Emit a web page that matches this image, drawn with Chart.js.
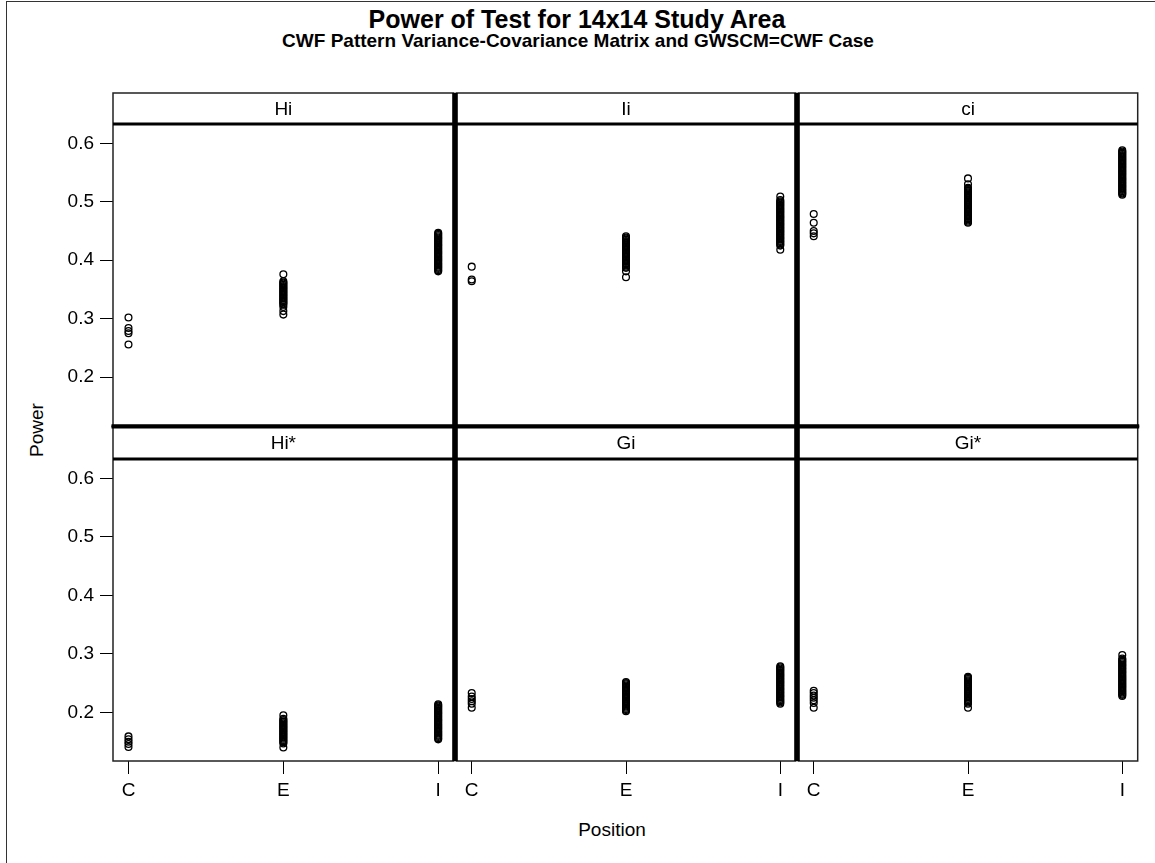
<!DOCTYPE html>
<html>
<head>
<meta charset="utf-8">
<title>Power of Test for 14x14 Study Area</title>
<script src="https://cdn.jsdelivr.net/npm/chart.js@4.4.0/dist/chart.umd.min.js"></script>
<style>
  body { margin: 0; background: #fff; }
  #page { position: relative; width: 1155px; height: 863px; overflow: hidden; background: #fff;
          font-family: "Liberation Sans", Arial, sans-serif; color: #000; }
  #page canvas { position: absolute; }
  .frame { position: absolute; left: 6px; top: 1px; width: 1200px; height: 900px;
           border-left: 1px solid #333; border-top: 1px solid #333; }
  .txt { position: absolute; white-space: nowrap; transform: translate(-50%, -50%); }
  #title { left: 577px; top: 19px; font-size: 25px; font-weight: bold; }
  #subtitle { left: 578px; top: 41px; font-size: 19px; font-weight: bold; }
  #ylab { left: 37px; top: 430px; font-size: 19px; transform: translate(-50%, -50%) rotate(-90deg); }
  #xlab { left: 612px; top: 830px; font-size: 19px; }
</style>
</head>
<body>
<div id="page">
  <div class="frame"></div>
  <div class="txt" id="title">Power of Test for 14x14 Study Area</div>
  <div class="txt" id="subtitle">CWF Pattern Variance-Covariance Matrix and GWSCM=CWF Case</div>
  <div class="txt" id="ylab">Power</div>
  <div class="txt" id="xlab">Position</div>
</div>
<script>
// positions on the x axis and the power ticks shared by all panels
const categories = ["C", "E", "I"];
const yTicks = [0.2, 0.3, 0.4, 0.5, 0.6];
const panelNames = ["Hi", "Ii", "ci", "Hi*", "Gi", "Gi*"];

// Hi
const hiC = [0.302, 0.284, 0.279, 0.275, 0.256];
const hiE = [0.376, 0.364, 0.362, 0.360, 0.358, 0.356, 0.354, 0.352, 0.350, 0.348, 0.346, 0.344, 0.342,
  0.340, 0.338, 0.336, 0.334, 0.332, 0.330, 0.328, 0.326, 0.324, 0.320, 0.313, 0.307];
const hiI = [0.447, 0.445, 0.443, 0.441, 0.439, 0.437, 0.435, 0.433, 0.431, 0.429, 0.427, 0.425, 0.423,
  0.421, 0.419, 0.417, 0.415, 0.413, 0.411, 0.409, 0.407, 0.405, 0.403, 0.401, 0.399, 0.397, 0.395,
  0.393, 0.391, 0.389, 0.387, 0.385, 0.383, 0.381];

// Ii
const iiC = [0.389, 0.367, 0.364];
const iiE = [0.441, 0.439, 0.437, 0.435, 0.433, 0.431, 0.429, 0.427, 0.425, 0.423, 0.421, 0.419, 0.417,
  0.415, 0.413, 0.411, 0.409, 0.407, 0.405, 0.403, 0.401, 0.399, 0.397, 0.395, 0.393, 0.391, 0.389,
  0.387, 0.381, 0.371];
const iiI = [0.509, 0.503, 0.501, 0.499, 0.497, 0.495, 0.493, 0.491, 0.489, 0.487, 0.485, 0.483, 0.481,
  0.479, 0.477, 0.475, 0.473, 0.471, 0.469, 0.467, 0.465, 0.463, 0.461, 0.459, 0.457, 0.455, 0.453,
  0.451, 0.449, 0.447, 0.445, 0.443, 0.441, 0.439, 0.437, 0.435, 0.433, 0.431, 0.429, 0.427, 0.425,
  0.418];

// ci
const ciC = [0.479, 0.464, 0.450, 0.446, 0.441];
const ciE = [0.540, 0.530, 0.524, 0.522, 0.520, 0.518, 0.516, 0.514, 0.512, 0.510, 0.508, 0.506, 0.504,
  0.502, 0.500, 0.498, 0.496, 0.494, 0.492, 0.490, 0.488, 0.486, 0.484, 0.482, 0.480, 0.478, 0.476,
  0.474, 0.472, 0.470, 0.468, 0.466, 0.464];
const ciI = [0.588, 0.586, 0.584, 0.582, 0.580, 0.578, 0.576, 0.574, 0.572, 0.570, 0.568, 0.566, 0.564,
  0.562, 0.560, 0.558, 0.556, 0.554, 0.552, 0.550, 0.548, 0.546, 0.544, 0.542, 0.540, 0.538, 0.536,
  0.534, 0.532, 0.530, 0.528, 0.526, 0.524, 0.522, 0.520, 0.518, 0.516, 0.514, 0.512];

// Hi*
const hisC = [0.159, 0.154, 0.150, 0.146, 0.141];
const hisE = [0.195, 0.189, 0.187, 0.185, 0.183, 0.181, 0.179, 0.177, 0.175, 0.173, 0.171, 0.169, 0.167,
  0.165, 0.163, 0.161, 0.159, 0.157, 0.155, 0.153, 0.151, 0.149, 0.147, 0.140];
const hisI = [0.214, 0.212, 0.210, 0.208, 0.206, 0.204, 0.202, 0.200, 0.198, 0.196, 0.194, 0.192, 0.190,
  0.188, 0.186, 0.184, 0.182, 0.180, 0.178, 0.176, 0.174, 0.172, 0.170, 0.168, 0.166, 0.164, 0.162,
  0.160, 0.158, 0.156, 0.154];

// Gi
const giC = [0.233, 0.227, 0.223, 0.219, 0.215, 0.208];
const giE = [0.252, 0.250, 0.248, 0.246, 0.244, 0.242, 0.240, 0.238, 0.236, 0.234, 0.232, 0.230, 0.228,
  0.226, 0.224, 0.222, 0.220, 0.218, 0.216, 0.214, 0.212, 0.210, 0.208, 0.206, 0.204, 0.202];
const giI = [0.279, 0.277, 0.275, 0.273, 0.271, 0.269, 0.267, 0.265, 0.263, 0.261, 0.259, 0.257, 0.255,
  0.253, 0.251, 0.249, 0.247, 0.245, 0.243, 0.241, 0.239, 0.237, 0.235, 0.233, 0.231, 0.229, 0.227,
  0.225, 0.223, 0.221, 0.219, 0.217, 0.215];

// Gi*
const gisC = [0.237, 0.233, 0.229, 0.225, 0.221, 0.216, 0.208];
const gisE = [0.261, 0.259, 0.257, 0.255, 0.253, 0.251, 0.249, 0.247, 0.245, 0.243, 0.241, 0.239, 0.237,
  0.235, 0.233, 0.231, 0.229, 0.227, 0.225, 0.223, 0.221, 0.219, 0.217, 0.215, 0.208];
const gisI = [0.298, 0.292, 0.290, 0.288, 0.286, 0.284, 0.282, 0.280, 0.278, 0.276, 0.274, 0.272, 0.270,
  0.268, 0.266, 0.264, 0.262, 0.260, 0.258, 0.256, 0.254, 0.252, 0.250, 0.248, 0.246, 0.244, 0.242,
  0.240, 0.238, 0.236, 0.234, 0.232, 0.230, 0.228];

const panelValues = [
  [hiC, hiE, hiI], [iiC, iiE, iiI], [ciC, ciE, ciI],
  [hisC, hisE, hisI], [giC, giE, giI], [gisC, gisE, gisI]
];

// panel grid geometry (page pixels)
const colEdges = [113, 455, 797, 1139];
const rowBoxes = [
  { stripTop: 93, plotTop: 124, plotBottom: 427 },
  { stripTop: 427, plotTop: 459, plotBottom: 761 }
];
const AXIS_W = 80;  // room for the power tick labels
const AXIS_H = 48;  // room for the position tick labels
const M = 4;        // margin so border strokes are not clipped
const FONT = "'Liberation Sans', Arial, sans-serif";

// strip header + panel borders, thick lines where panels meet
const panelFrame = {
  id: "panelFrame",
  afterDraw(chart, args, opts) {
    const { ctx, chartArea: a } = chart;
    const top = a.top - opts.stripH;
    const line = (x1, y1, x2, y2) => { ctx.beginPath(); ctx.moveTo(x1, y1); ctx.lineTo(x2, y2); ctx.stroke(); };
    ctx.save();
    ctx.fillStyle = "#000";
    ctx.font = "19px " + FONT;
    ctx.textAlign = "center";
    ctx.textBaseline = "middle";
    ctx.fillText(opts.label, (a.left + a.right) / 2, top + opts.stripH / 2 + 1);

    ctx.strokeStyle = "#222";
    ctx.lineWidth = 1.5;
    ctx.strokeRect(a.left, top, a.right - a.left, a.bottom - top);

    ctx.strokeStyle = "#000";
    ctx.lineWidth = 3;
    line(a.left, a.top, a.right, a.top);
    if (opts.col > 0) line(a.left, top, a.left, a.bottom);
    if (opts.col < 2) line(a.right, top, a.right, a.bottom);
    if (opts.row === 0) line(a.left - 1.5, a.bottom, a.right + 1.5, a.bottom);
    if (opts.row === 1) line(a.left - 1.5, top, a.right + 1.5, top);
    ctx.restore();
  }
};

// fixed axis sizes so every panel's plot box lands on the grid
const fitAxis = (shown, size) => s => {
  if (s.isHorizontal()) s.height = shown ? size : 0;
  else s.width = shown ? size : 0;
  s.paddingTop = 0; s.paddingBottom = 0; s.paddingLeft = 0; s.paddingRight = 0;
};

const page = document.getElementById("page");

panelValues.forEach((groups, p) => {
  const row = Math.floor(p / 3);
  const col = p % 3;
  const box = rowBoxes[row];
  const left = colEdges[col];
  const right = colEdges[col + 1];
  const showY = col === 0;
  const showX = row === 1;
  const padL = showY ? AXIS_W : M;
  const padB = showX ? AXIS_H : M;
  const stripH = box.plotTop - box.stripTop;

  const w = (right - left) + padL + M;
  const h = (box.plotBottom - box.stripTop) + M + padB;
  const canvas = document.createElement("canvas");
  canvas.width = w;
  canvas.height = h;
  canvas.style.width = w + "px";
  canvas.style.height = h + "px";
  canvas.style.left = (left - padL) + "px";
  canvas.style.top = (box.stripTop - M) + "px";
  page.appendChild(canvas);

  const points = groups.flatMap((vals, i) => vals.map(v => ({ x: i + 1, y: v })));

  new Chart(canvas.getContext("2d"), {
    type: "scatter",
    data: {
      datasets: [{
        data: points,
        pointStyle: "circle",
        pointRadius: 3.4,
        pointBorderWidth: 1.3,
        pointBorderColor: "#000",
        pointBackgroundColor: "rgba(0,0,0,0)"
      }]
    },
    options: {
      responsive: false,
      animation: false,
      devicePixelRatio: 1,
      events: [],
      layout: {
        padding: { left: showY ? 0 : M, right: M, top: M + stripH, bottom: showX ? 0 : M }
      },
      plugins: {
        legend: { display: false },
        tooltip: { enabled: false },
        panelFrame: { label: panelNames[p], stripH, row, col }
      },
      scales: {
        x: {
          type: "linear",
          min: 0.9,
          max: 3.1,
          display: showX,
          afterBuildTicks: s => { s.ticks = categories.map((c, i) => ({ value: i + 1 })); },
          afterFit: fitAxis(showX, AXIS_H),
          grid: { drawOnChartArea: false, drawTicks: true, tickLength: 13, color: "#000", lineWidth: 1 },
          border: { display: false },
          ticks: {
            autoSkip: false,
            maxRotation: 0,
            padding: 5,
            color: "#000",
            font: { family: FONT, size: 19 },
            callback: v => categories[v - 1] ?? ""
          }
        },
        y: {
          type: "linear",
          min: 0.117,
          max: 0.633,
          display: showY,
          afterBuildTicks: s => { s.ticks = yTicks.map(v => ({ value: v })); },
          afterFit: fitAxis(showY, AXIS_W),
          grid: { drawOnChartArea: false, drawTicks: true, tickLength: 13, color: "#000", lineWidth: 1 },
          border: { display: false },
          ticks: {
            padding: 6,
            color: "#000",
            font: { family: FONT, size: 19 },
            callback: v => v.toFixed(1)
          }
        }
      }
    },
    plugins: [panelFrame]
  });
});
</script>
</body>
</html>
